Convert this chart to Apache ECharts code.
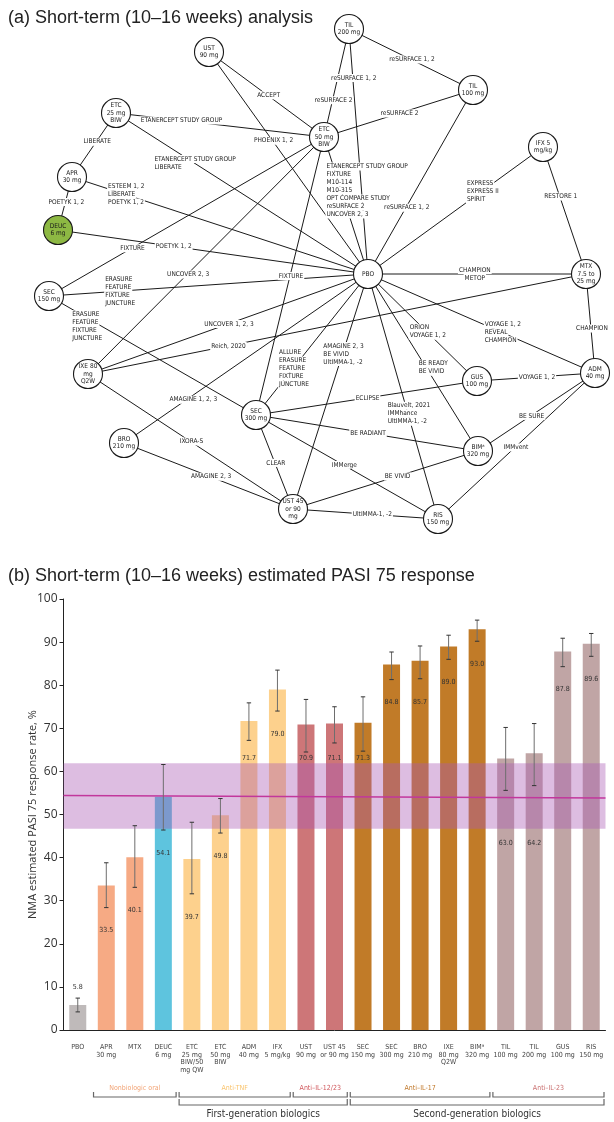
<!DOCTYPE html>
<html><head><meta charset="utf-8">
<script src="https://cdn.jsdelivr.net/npm/echarts@6/dist/echarts.min.js"></script>
<style>html,body{margin:0;padding:0;background:#fff}#c{width:614px;height:1122px}</style>
</head><body><div id="c"></div>
<script>
// ---------- (a) network data ----------
const nodeIds   = ['UST90','TIL200','TIL100','ETC25','ETC50','IFX','APR','DEUC','PBO','SEC150','MTX','IXE','GUS','ADM','SEC300','BRO','BIM','UST45','RIS'];
const nodeText  = ['UST\n90 mg','TIL\n200 mg','TIL\n100 mg','ETC\n25 mg\nBIW','ETC\n50 mg\nBIW','IFX 5\nmg/kg','APR\n30 mg','DEUC\n6 mg','PBO','SEC\n150 mg','MTX\n7.5 to\n25 mg','IXE 80\nmg\nQ2W','GUS\n100 mg','ADM\n40 mg','SEC\n300 mg','BRO\n210 mg','BIMᵃ\n320 mg','UST 45\nor 90\nmg','RIS\n150 mg'];
const nodeX     = [209,349,473,116,324,543,72,58,368,49,586,88,477,595,256,124,478,293,438];
const nodeY     = [52,29,90,113,137,147,177,230,274,296,274,374,381,373,415,443,451,509,519];

const linkFrom = ['UST90','UST90','TIL200','TIL200','TIL200','TIL100','TIL100','IFX','IFX','ETC50','ETC25','ETC25','ETC25','APR','APR','DEUC','SEC150','SEC150','SEC150','SEC300','IXE','IXE','IXE','IXE','BRO','BRO','SEC300','SEC300','SEC300','SEC300','SEC300','UST45','UST45','UST45','RIS','BIM','GUS','PBO','PBO','MTX','GUS','BIM','RIS'];
const linkTo   = ['ETC50','PBO','TIL100','ETC50','PBO','ETC50','PBO','PBO','MTX','PBO','ETC50','PBO','APR','PBO','DEUC','PBO','ETC50','PBO','SEC300','ETC50','ETC50','PBO','MTX','UST45','PBO','UST45','PBO','UST45','GUS','BIM','RIS','PBO','BIM','RIS','PBO','PBO','PBO','ADM','MTX','ADM','ADM','ADM','ADM'];
const linkText = ['ACCEPT','PHOENIX 1, 2','reSURFACE 1, 2','reSURFACE 2','reSURFACE 1, 2','reSURFACE 2','reSURFACE 1, 2',
  'EXPRESS\nEXPRESS II\nSPIRIT','RESTORE 1',
  'ETANERCEPT STUDY GROUP\nFIXTURE\nM10-114\nM10-315\nOPT COMPARE STUDY\nreSURFACE 2\nUNCOVER 2, 3',
  'ETANERCEPT STUDY GROUP','ETANERCEPT STUDY GROUP\nLIBERATE','LIBERATE','ESTEEM 1, 2\nLIBERATE\nPOETYK 1, 2','POETYK 1, 2','POETYK 1, 2',
  'FIXTURE','ERASURE\nFEATURE\nFIXTURE\nJUNCTURE','ERASURE\nFEATURE\nFIXTURE\nJUNCTURE','FIXTURE',
  'UNCOVER 2, 3','UNCOVER 1, 2, 3','Reich, 2020','IXORA-S','AMAGINE 1, 2, 3','AMAGINE 2, 3',
  'ALLURE\nERASURE\nFEATURE\nFIXTURE\nJUNCTURE','CLEAR','ECLIPSE','BE RADIANT','IMMerge',
  'AMAGINE 2, 3\nBE VIVID\nUltIMMA-1, -2','BE VIVID','UltIMMA-1, -2','Blauvelt, 2021\nIMMhance\nUltIMMA-1, -2',
  'BE READY\nBE VIVID','ORION\nVOYAGE 1, 2','VOYAGE 1, 2\nREVEAL\nCHAMPION','CHAMPION\nMETOP','CHAMPION','VOYAGE 1, 2','BE SURE','IMMvent'];
// where each edge label sits along its edge (fraction from source to target)
const labelAt  = [0.51,0.40,0.50,0.66,0.20,0.50,0.64,0.35,0.39,0.39,0.31,0.31,0.45,0.18,0.47,0.37,0.30,0.22,0.18,0.50,0.42,0.50,0.28,0.50,0.28,0.51,0.33,0.51,0.50,0.50,0.48,0.66,0.56,0.54,0.43,0.47,0.46,0.59,0.49,0.55,0.50,0.45,0.49];

// ---------- (b) bar data ----------
const categories = ['PBO','APR\n30 mg','MTX','DEUC\n6 mg','ETC\n25 mg\nBIW/50\nmg QW','ETC\n50 mg\nBIW','ADM\n40 mg','IFX\n5 mg/kg','UST\n90 mg','UST 45\nor 90 mg','SEC\n150 mg','SEC\n300 mg','BRO\n210 mg','IXE\n80 mg\nQ2W','BIMᵃ\n320 mg','TIL\n100 mg','TIL\n200 mg','GUS\n100 mg','RIS\n150 mg'];
const pasi75  = [5.8,33.5,40.1,54.1,39.7,49.8,71.7,79.0,70.9,71.1,71.3,84.8,85.7,89.0,93.0,63.0,64.2,87.8,89.6];
const ciLow   = [4.2,28.4,33.1,46.4,31.6,45.7,67.2,74.0,64.5,66.6,64.7,81.3,81.5,86.0,90.2,55.6,56.7,84.3,86.7];
const ciHigh  = [7.4,38.8,47.4,61.6,48.2,53.7,75.9,83.5,76.7,75.0,77.3,87.7,89.1,91.6,95.1,70.2,71.1,90.9,92.0];
const drugClass = ['pbo','oral','oral','deuc','tnf','tnf','tnf','tnf','il1223','il1223','il17','il17','il17','il17','il17','il23','il23','il23','il23'];
const deucBand = [46.7, 61.9];
const deucLine = [54.4, 53.8];
const groupNames = ['Nonbiologic oral','Anti-TNF','Anti–IL-12/23','Anti–IL-17','Anti–IL-23'];
const groupStart = [1,4,8,10,15];
const groupEnd   = [3,7,9,14,18];
const groupClass = ['oral','tnf','il1223','il17','il23'];
const genNames = ['First-generation biologics','Second-generation biologics'];
const genStart = [4,10];
const genEnd   = [9,18];

// ---------- styles ----------
const classColor = {pbo:'#bfbaba', oral:'#f6aa84', deuc:'#5ec4de', tnf:'#fdd18d', il1223:'#cd7678', il17:'#c17b28', il23:'#c0a5a5'};
const groupTextColor = {oral:'#f2a476', tnf:'#f9c46e', il1223:'#d0585d', il17:'#c0782a', il23:'#c96f6f'};
const labelNudge = {9:[25,0], 18:[0,9], 24:[0,4], 35:[6,0]};
const centeredLabels = [38];
const NF = '"DejaVu Sans Condensed","Liberation Sans Narrow",sans-serif';
const NFS = 6.5, NLH = 8;

const cvs = document.createElement('canvas').getContext('2d');
cvs.font = NFS + 'px ' + NF;
function blockWidth(t){ return Math.max.apply(null, t.split('\n').map(s => cvs.measureText(s).width)); }

const idx = {}; nodeIds.forEach((n,i) => idx[n] = i);

const chart = echarts.init(document.getElementById('c'), null, {renderer:'canvas'});

const option = {
  animation: false,
  backgroundColor: '#fff',
  title: [
    {text:'(a) Short-term (10–16 weeks) analysis', left:3, top:4, textStyle:{fontSize:18, fontWeight:'normal', color:'#222', fontFamily:'"Liberation Sans",Arial,sans-serif'}},
    {text:'(b) Short-term (10–16 weeks) estimated PASI 75 response', left:3, top:562, textStyle:{fontSize:18, fontWeight:'normal', color:'#222', fontFamily:'"Liberation Sans",Arial,sans-serif'}}
  ],
  grid: [
    {left:0, top:0, width:614, height:560},
    {left:63.5, top:599, width:542, height:431}
  ],
  xAxis: [
    {gridIndex:0, type:'value', min:0, max:614, show:false},
    {gridIndex:1, type:'category', data:categories,
      axisLine:{lineStyle:{color:'#222', width:1}},
      axisTick:{length:5, lineStyle:{color:'#222'}},
      axisLabel:{interval:0, fontSize:7, lineHeight:7.8, margin:13, color:'#444', fontFamily:NF}},
    {gridIndex:1, type:'value', min:0, max:1, show:false}
  ],
  yAxis: [
    {gridIndex:0, type:'value', min:0, max:560, inverse:true, show:false},
    {gridIndex:1, type:'value', min:0, max:100, interval:10,
      axisLine:{show:true, lineStyle:{color:'#222'}},
      axisTick:{show:true, length:4, lineStyle:{color:'#222'}},
      splitLine:{show:false},
      axisLabel:{fontSize:12, color:'#333', margin:6, fontFamily:'"Open Sans","Noto Sans",sans-serif'},
      name:'NMA estimated PASI 75 response rate, %', nameLocation:'middle', nameGap:25, nameRotate:90, nameMoveOverlap:false,
      nameTextStyle:{fontSize:11, color:'#333', fontFamily:'"Open Sans","Noto Sans",sans-serif'}}
  ],
  series: [
    // network edges
    {type:'custom', xAxisIndex:0, yAxisIndex:0, z:1, silent:true, clip:false,
      data: linkFrom.map((f,i) => [i]),
      renderItem: function(params, api){
        const i = params.dataIndex;
        const a = api.coord([nodeX[idx[linkFrom[i]]], nodeY[idx[linkFrom[i]]]]);
        const b = api.coord([nodeX[idx[linkTo[i]]], nodeY[idx[linkTo[i]]]]);
        return {type:'line', shape:{x1:a[0], y1:a[1], x2:b[0], y2:b[1]}, style:{stroke:'#1a1a1a', lineWidth:1}};
      }},
    // network edge labels (one text per row, each with its own white background)
    {type:'custom', xAxisIndex:0, yAxisIndex:0, z:2, silent:true, clip:false,
      data: linkFrom.map((f,i) => [i]),
      renderItem: function(params, api){
        const i = params.dataIndex;
        const a = api.coord([nodeX[idx[linkFrom[i]]], nodeY[idx[linkFrom[i]]]]);
        const b = api.coord([nodeX[idx[linkTo[i]]], nodeY[idx[linkTo[i]]]]);
        const t = labelAt[i];
        const nd = labelNudge[i] || [0,0];
        let px = a[0] + (b[0]-a[0])*t + nd[0];
        const py = a[1] + (b[1]-a[1])*t + nd[1];
        const centered = centeredLabels.indexOf(i) >= 0;
        if (!centered) px -= blockWidth(linkText[i]) / 2;
        const rows = linkText[i].split('\n');
        return {type:'group', children: rows.map((r,k) => ({
          type:'text', x:px, y:py + (k - (rows.length-1)/2) * NLH,
          style:{text:r, fontSize:NFS, fontFamily:NF, fill:'#1a1a1a', align: centered ? 'center' : 'left',
            verticalAlign:'middle', lineHeight:NLH, backgroundColor:'#fff', padding:[0,1]}}))};
      }},
    // network nodes
    {type:'scatter', xAxisIndex:0, yAxisIndex:0, z:3, silent:true, symbol:'circle', symbolSize:29,
      data: nodeIds.map((n,i) => ({value:[nodeX[i], nodeY[i]], name:n,
        itemStyle:{color: n==='DEUC' ? '#8db843' : '#fff', borderColor:'#1a1a1a', borderWidth:1.1, opacity:1}})),
      label:{show:true, position:'inside', formatter: p => nodeText[p.dataIndex], fontSize:NFS, lineHeight:7.5, color:'#1a1a1a', fontFamily:NF}},
    // bars
    {type:'bar', xAxisIndex:1, yAxisIndex:1, z:2, barWidth:17,
      data: pasi75.map((v,i) => ({value:v, itemStyle:{color:classColor[drugClass[i]]}}))},
    // DEUC reference band and line
    {type:'custom', xAxisIndex:1, yAxisIndex:1, z:3, silent:true,
      data:[[0]],
      renderItem: function(params, api){
        const cs = params.coordSys;
        const yTop = api.coord([0, deucBand[1]])[1], yBot = api.coord([0, deucBand[0]])[1];
        const y1 = api.coord([0, deucLine[0]])[1], y2 = api.coord([0, deucLine[1]])[1];
        return {type:'group', children:[
          {type:'rect', shape:{x:cs.x, y:yTop, width:cs.width, height:yBot-yTop}, style:{fill:'rgba(170,90,180,0.4)'}},
          {type:'line', shape:{x1:cs.x, y1:y1, x2:cs.x+cs.width, y2:y2}, style:{stroke:'#c2379c', lineWidth:1.5}}
        ]};
      }},
    // error bars + value labels
    {type:'custom', xAxisIndex:1, yAxisIndex:1, z:4, silent:true,
      data: pasi75.map((v,i) => [i, ciLow[i], ciHigh[i], v]),
      renderItem: function(params, api){
        const i = api.value(0);
        const lo = api.coord([i, api.value(1)]);
        const hi = api.coord([i, api.value(2)]);
        const val = api.value(3);
        const bandTopY = api.coord([i, deucBand[1]])[1];
        const bandBotY = api.coord([i, deucBand[0]])[1];
        let ty = lo[1] + 23;
        if (lo[1] < bandTopY) ty = Math.min(ty, bandTopY - 5);
        else if (lo[1] <= bandBotY) ty = bandBotY + 14;
        if (val < 10) ty = hi[1] - 11;
        const x = lo[0], c = 2.2;
        return {type:'group', children:[
          {type:'line', shape:{x1:x, y1:lo[1], x2:x, y2:hi[1]}, style:{stroke:'#6e6e6e', lineWidth:1}},
          {type:'line', shape:{x1:x-c, y1:lo[1], x2:x+c, y2:lo[1]}, style:{stroke:'#333', lineWidth:1}},
          {type:'line', shape:{x1:x-c, y1:hi[1], x2:x+c, y2:hi[1]}, style:{stroke:'#333', lineWidth:1}},
          {type:'text', x:x, y:ty, style:{text:val.toFixed(1), fontSize:7, fontFamily:NF, fill:'#333', align:'center', verticalAlign:'middle'}}
        ]};
      }},
    // class brackets
    {type:'custom', xAxisIndex:1, yAxisIndex:1, z:4, silent:true, clip:false,
      data: groupStart.map((s,i) => [s, groupEnd[i]]),
      renderItem: function(params, api){
        const i = params.dataIndex;
        const bw = api.size([1,0])[0];
        const base = api.coord([0,0])[1];
        const x1 = api.coord([groupStart[i],0])[0] - bw/2 + 1.5;
        const x2 = api.coord([groupEnd[i],0])[0] + bw/2 - 1.5;
        const yt = base + 62, yb = base + 67;
        return {type:'group', children:[
          {type:'polyline', shape:{points:[[x1,yt],[x1,yb],[x2,yb],[x2,yt]]}, style:{stroke:'#666', lineWidth:1.2, fill:null}},
          {type:'text', x:(x1+x2)/2, y:base+58, style:{text:groupNames[i], fontSize:7, fontFamily:NF, fill:groupTextColor[groupClass[i]], align:'center', verticalAlign:'middle'}}
        ]};
      }},
    // generation brackets
    {type:'custom', xAxisIndex:1, yAxisIndex:1, z:4, silent:true, clip:false,
      data: genStart.map((s,i) => [s, genEnd[i]]),
      renderItem: function(params, api){
        const i = params.dataIndex;
        const bw = api.size([1,0])[0];
        const base = api.coord([0,0])[1];
        const x1 = api.coord([genStart[i],0])[0] - bw/2 + 1.5;
        const x2 = api.coord([genEnd[i],0])[0] + bw/2 - 1.5;
        const yt = base + 69, yb = base + 75;
        return {type:'group', children:[
          {type:'polyline', shape:{points:[[x1,yt],[x1,yb],[x2,yb],[x2,yt]]}, style:{stroke:'#666', lineWidth:1.2, fill:null}},
          {type:'text', x:(x1+x2)/2, y:base+84, style:{text:genNames[i], fontSize:10, fontFamily:NF, fill:'#333', align:'center', verticalAlign:'middle'}}
        ]};
      }}
  ]
};
chart.setOption(option);
</script>
</body></html>
